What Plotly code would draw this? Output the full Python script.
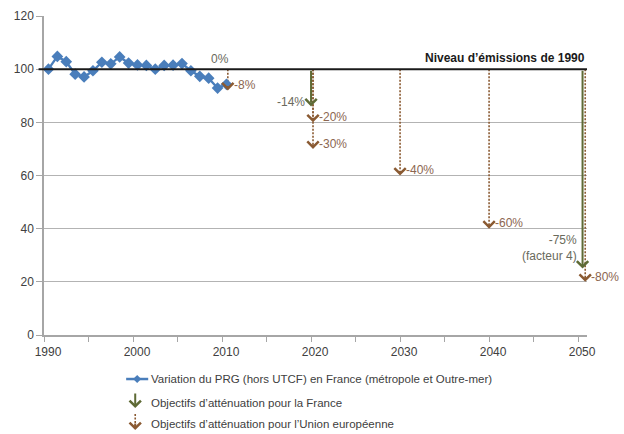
import plotly.graph_objects as go

# ---------------- data ----------------
years = list(range(1990, 2011))
prg = [100, 104.8, 102.8, 98.1, 97.1, 99.4, 102.6, 102.0, 104.6, 102.3, 101.6,
       101.4, 100.0, 101.4, 101.5, 102.1, 99.4, 97.3, 96.6, 92.9, 94.3]

ref_level = 100
ref_label = "Niveau d’émissions de 1990"

# France targets (solid green arrows), drawn on the year tick marks
fr_x = [2019.5, 2050.0]
fr_y = [86, 25]
fr_labels = ["-14%", "-75%<br>(facteur 4)"]

# EU targets (dotted brown arrows)
eu_x = [2010.15, 2019.72, 2019.72, 2029.5, 2039.5, 2050.3]
eu_y = [92, 80, 70, 60, 40, 20]
eu_labels = ["-8%", "-20%", "-30%", "-40%", "-60%", "-80%"]

legend_labels = [
    "Variation du PRG (hors UTCF) en France (métropole et Outre-mer)",
    "Objectifs d’atténuation pour la France",
    "Objectifs d’atténuation pour l’Union européenne",
]

x_ticks = [1990, 2000, 2010, 2020, 2030, 2040, 2050]
y_ticks = [0, 20, 40, 60, 80, 100, 120]

# ---------------- styles ----------------
FONT = "Liberation Sans, Arial, sans-serif"
BLUE = "#4a7ebb"
GREEN = "#5e6a35"
BROWN = "#8a5a32"
BROWN_TXT = "#8c6650"
OLIVE_TXT = "#6a6a5c"
AXIS = "#a6a6a6"
TXT = "#404040"
TICK_OFFSET = 0.5  # Excel-style: tick marks sit between category centres

fig = go.Figure()

# 1990 reference line
fig.add_shape(type="line", xref="paper", yref="y", x0=-0.01, x1=1,
              y0=ref_level, y1=ref_level, line=dict(color="#1a1a1a", width=2))

# EU dotted shafts
for x, y in zip(eu_x, eu_y):
    fig.add_trace(go.Scatter(x=[x, x], y=[ref_level, y + 1.5], mode="lines",
                             line=dict(color=BROWN, width=1.6, dash="2px,1.5px"),
                             showlegend=False, hoverinfo="skip"))

# Series
fig.add_trace(go.Scatter(x=years, y=prg, mode="lines+markers",
                         line=dict(color=BLUE, width=2.3),
                         marker=dict(symbol="diamond", size=9, color=BLUE),
                         cliponaxis=False, showlegend=False))

annotations = []
# EU arrow heads
for x, y in zip(eu_x, eu_y):
    annotations.append(dict(x=x, y=y, xref="x", yref="y", ax=0, ay=-6,
                            showarrow=True, arrowhead=4, arrowsize=1.1,
                            arrowwidth=2, arrowcolor=BROWN, text=""))
# France solid arrows
for x, y in zip(fr_x, fr_y):
    annotations.append(dict(x=x, y=y, xref="x", yref="y", ax=x, ay=ref_level,
                            axref="x", ayref="y", showarrow=True, arrowhead=4,
                            arrowsize=1.1, arrowwidth=2, arrowcolor=GREEN, text=""))

# EU labels
for x, y, t in zip(eu_x, eu_y, eu_labels):
    annotations.append(dict(x=x, y=y + 2, xref="x", yref="y", text=t,
                            showarrow=False, xanchor="left", xshift=4,
                            font=dict(family=FONT, size=12, color=BROWN_TXT)))
# France labels
for x, y, t in zip(fr_x, fr_y, fr_labels):
    annotations.append(dict(x=x, y=y + 1.5, xref="x", yref="y", text=t,
                            showarrow=False, xanchor="right", yanchor="bottom" if "<br>" in t else "middle",
                            xshift=-4, align="right",
                            font=dict(family=FONT, size=12, color=OLIVE_TXT)))
# 0% label
annotations.append(dict(x=eu_x[0], y=ref_level, xref="x", yref="y", text="0%",
                        showarrow=False, yanchor="bottom", xshift=-8, yshift=1,
                        font=dict(family=FONT, size=12, color=OLIVE_TXT)))
# reference label
annotations.append(dict(x=1, y=ref_level, xref="paper", yref="y", text="<b>" + ref_label + "</b>",
                        showarrow=False, xanchor="right", yanchor="bottom", yshift=2,
                        font=dict(family=FONT, size=12, color="#1a1a1a")))

# ---------------- custom legend ----------------
lx_line0, lx_line1, lx_mid, lx_text = 0.1513, 0.1919, 0.1716, 0.1937
ly = [-0.138, -0.213, -0.279]
fig.add_shape(type="line", xref="paper", yref="paper", x0=lx_line0, x1=lx_line1,
              y0=ly[0], y1=ly[0], line=dict(color=BLUE, width=2.5))
dx, dy = 0.0075, 0.0125
fig.add_shape(type="path", xref="paper", yref="paper",
              path=f"M {lx_mid-dx} {ly[0]} L {lx_mid} {ly[0]+dy} L {lx_mid+dx} {ly[0]} L {lx_mid} {ly[0]-dy} Z",
              fillcolor=BLUE, line=dict(color=BLUE, width=0))
ax_x = 0.168
annotations.append(dict(x=ax_x, y=-0.2288, xref="paper", yref="paper", ax=0, ay=-16,
                        showarrow=True, arrowhead=4, arrowsize=1.1, arrowwidth=2,
                        arrowcolor=GREEN, text=""))
fig.add_shape(type="line", xref="paper", yref="paper", x0=ax_x, x1=ax_x,
              y0=-0.2476, y1=-0.285, line=dict(color=BROWN, width=1.6, dash="2px,1.5px"))
annotations.append(dict(x=ax_x, y=-0.298, xref="paper", yref="paper", ax=0, ay=-8,
                        showarrow=True, arrowhead=4, arrowsize=1.1, arrowwidth=2,
                        arrowcolor=BROWN, text=""))
for y, t in zip(ly, legend_labels):
    annotations.append(dict(x=lx_text, y=y, xref="paper", yref="paper", text=t,
                            showarrow=False, xanchor="left", yanchor="middle",
                            font=dict(family=FONT, size=11.5, color=TXT)))

fig.update_layout(
    width=624, height=434,
    margin=dict(l=44, r=37, t=16, b=99),
    paper_bgcolor="white", plot_bgcolor="white",
    showlegend=False,
    annotations=annotations,
    font=dict(family=FONT, size=12, color=TXT),
)
fig.update_xaxes(range=[x_ticks[0] - TICK_OFFSET, x_ticks[-1] + TICK_OFFSET],
                 tickvals=[t - TICK_OFFSET for t in x_ticks],
                 ticktext=[str(t) for t in x_ticks], ticklabelshift=4,
                 ticks="outside", ticklen=5,
                 tickcolor=AXIS, showline=True, linecolor=AXIS, linewidth=1.5,
                 showgrid=False, zeroline=False, automargin=False,
                 minor=dict(dtick=5, tick0=x_ticks[0] - TICK_OFFSET, ticks="outside",
                            ticklen=5, tickcolor=AXIS),
                 tickfont=dict(family=FONT, size=12, color=TXT))
fig.update_yaxes(range=[0, 120], tickvals=y_ticks, ticks="outside", ticklen=6,
                 tickcolor=AXIS, showline=True, linecolor=AXIS, linewidth=1.5,
                 showgrid=True, gridcolor="#b3b3b3", gridwidth=1, zeroline=False,
                 automargin=False,
                 tickfont=dict(family=FONT, size=12, color=TXT))

fig.write_html("out.html", config={"displayModeBar": False},
               post_script="document.body.style.margin='0';document.body.style.padding='0';")
